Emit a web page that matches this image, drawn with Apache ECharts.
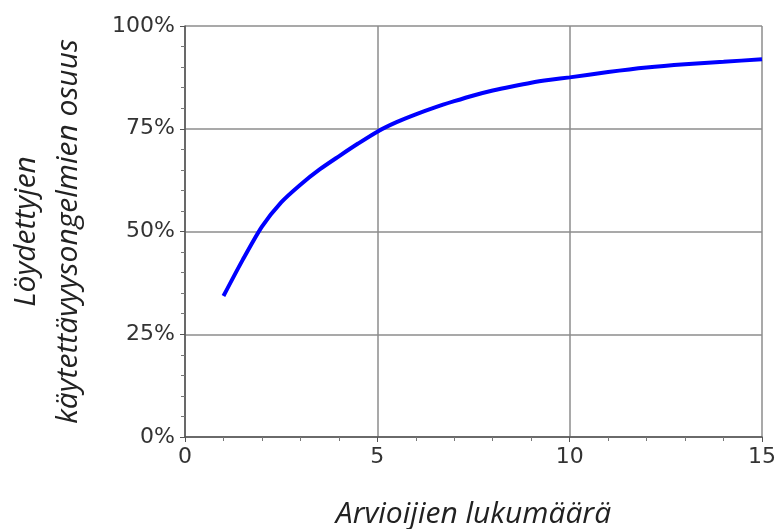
<!DOCTYPE html>
<html>
<head>
<meta charset="utf-8">
<script src="https://cdn.jsdelivr.net/npm/echarts@6/dist/echarts.min.js"></script>
<style>html,body{margin:0;padding:0;background:#fff}#main{width:779px;height:529px}</style>
</head>
<body>
<div id="main"></div>
<script>
// arvioijien lukumäärä vs. löydettyjen ongelmien osuus (%)
const evaluators = [1, 1.5, 2, 2.5, 3, 3.5, 4, 4.5, 5, 5.5, 6, 6.5, 7, 7.5, 8, 8.5, 9, 9.5, 10, 11, 12, 13, 14, 15];
const foundShare = [34.3, 43.1, 51.2, 57.1, 61.4, 65.1, 68.3, 71.4, 74.3, 76.6, 78.5, 80.2, 81.7, 83.1, 84.3, 85.3, 86.2, 86.9, 87.5, 88.8, 89.9, 90.7, 91.3, 91.9];
const yTicks = [0, 25, 50, 75, 100];

const chart = echarts.init(document.getElementById('main'));

const gridLine = { show: true, lineStyle: { color: '#8c8c8c', width: 1.5 } };

chart.setOption({
    animation: false,
    grid: { left: 185, right: 17, top: 26, bottom: 92, outerBoundsMode: 'none', containLabel: false },
    xAxis: {
        type: 'value',
        min: 0, max: 15, interval: 5,
        name: 'Arvioijien lukumäärä',
        nameLocation: 'middle',
        nameGap: 62,
        nameTextStyle: { fontFamily: 'Open Sans', fontStyle: 'italic', fontSize: 30, color: '#222' },
        axisLine: { lineStyle: { color: '#555', width: 1.5 } },
        axisTick: { length: 5, lineStyle: { color: '#555' } },
        minorTick: { show: true, splitNumber: 5, length: 4, lineStyle: { color: '#777' } },
        axisLabel: { fontFamily: 'DejaVu Sans', fontSize: 22, color: '#333', margin: 9 },
        splitLine: gridLine
    },
    yAxis: {
        type: 'value',
        min: 0, max: 100, interval: 25,
        name: 'Löydettyjen\nkäytettävyysongelmien osuus',
        nameLocation: 'middle',
        nameGap: 96,
        nameTextStyle: { fontFamily: 'Open Sans', fontStyle: 'italic', fontSize: 30, color: '#222', lineHeight: 42 },
        axisLine: { show: true, lineStyle: { color: '#555', width: 1.5 } },
        axisTick: { show: true, length: 5, lineStyle: { color: '#555' } },
        minorTick: { show: true, splitNumber: 5, length: 4, lineStyle: { color: '#777' } },
        axisLabel: {
            fontFamily: 'DejaVu Sans', fontSize: 22, color: '#333', margin: 10,
            formatter: v => yTicks.includes(v) ? v + '%' : ''
        },
        splitLine: gridLine
    },
    series: [{
        type: 'line',
        data: evaluators.map((x, i) => [x, foundShare[i]]),
        smooth: 0.25,
        showSymbol: false,
        lineStyle: { color: '#0000ff', width: 4 }
    }]
});
</script>
</body>
</html>
